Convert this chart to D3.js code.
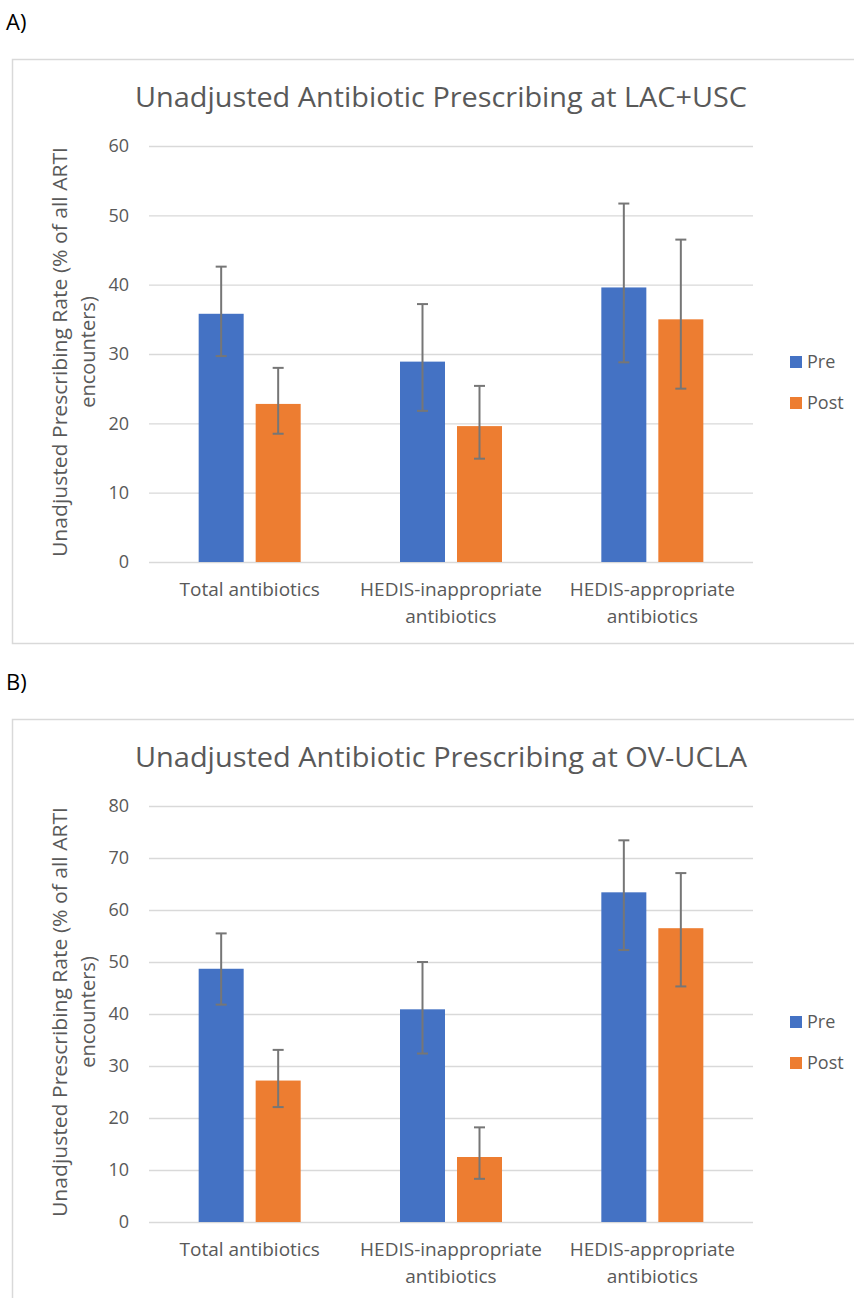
<!DOCTYPE html>
<html>
<head>
<meta charset="utf-8">
<script src="https://cdn.jsdelivr.net/npm/d3@7"></script>
<style>
  body { margin: 0; background: #fff; }
  text { font-family: 'Open Sans', sans-serif; fill: #595959; }
</style>
</head>
<body>
<script>
// categories (tick labels, split in lines) and series
const categories = ['Total antibiotics', 'HEDIS-inappropriate antibiotics', 'HEDIS-appropriate antibiotics']
const categoryLines = [['Total antibiotics'], ['HEDIS-inappropriate', 'antibiotics'], ['HEDIS-appropriate', 'antibiotics']]
const seriesNames = ['Pre', 'Post']

// A) LAC+USC
const lacPre = [35.8, 28.9, 39.6]
const lacPost = [22.8, 19.6, 35.0]
const lacPreLow = [29.7, 21.8, 28.8]
const lacPreHigh = [42.6, 37.2, 51.7]
const lacPostLow = [18.5, 14.9, 25.0]
const lacPostHigh = [28.0, 25.4, 46.5]
const lacTicks = [0, 10, 20, 30, 40, 50, 60]

// B) OV-UCLA
const ovPre = [48.7, 40.9, 63.4]
const ovPost = [27.2, 12.5, 56.5]
const ovPreLow = [41.8, 32.4, 52.3]
const ovPreHigh = [55.5, 50.0, 73.4]
const ovPostLow = [22.1, 8.3, 45.3]
const ovPostHigh = [33.1, 18.2, 67.1]
const ovTicks = [0, 10, 20, 30, 40, 50, 60, 70, 80]

const colors = ['#4472C4', '#ED7D31']
const yTitle = ['Unadjusted Prescribing Rate (% of all ARTI', 'encounters)']

const w = 854
const h = 1298

const svg = d3.select('body')
    .append('svg')
    .attr('width', w)
    .attr('height', h)

function drawPanel(top, letter, title, pre, post, preLow, preHigh, postLow, postHigh, ticks) {
    // panel letter
    svg.append('text')
        .attr('x', 6)
        .attr('y', top - 29)
        .style('font-size', '22px')
        .style('fill', '#000')
        .text(letter)

    // chart frame
    svg.append('rect')
        .attr('x', 12.5)
        .attr('y', top + 0.5)
        .attr('width', 860)
        .attr('height', 584)
        .style('fill', 'none')
        .style('stroke', '#d9d9d9')
        .style('stroke-width', 1.5)

    // title
    svg.append('text')
        .attr('x', 441)
        .attr('y', top + 48)
        .attr('text-anchor', 'middle')
        .attr('textLength', 612)
        .attr('lengthAdjust', 'spacingAndGlyphs')
        .style('font-size', '28px')
        .text(title)

    const plotTop = top + 87
    const plotBottom = top + 503
    const left = 149
    const right = 753

    const yScale = d3.scaleLinear()
        .domain([0, d3.max(ticks)])
        .range([plotBottom, plotTop])

    const x0 = d3.scaleBand()
        .domain(categories)
        .range([left, right])

    const groupW = 102
    const x1 = d3.scaleBand()
        .domain(seriesNames)
        .range([(x0.bandwidth() - groupW) / 2, (x0.bandwidth() + groupW) / 2])
        .paddingInner(0.2105)

    // y axis with gridlines
    const yAxis = d3.axisLeft(yScale)
        .tickValues(ticks)
        .tickSize(-(right - left))
        .tickPadding(20)

    const gy = svg.append('g')
        .attr('transform', `translate(${left},0)`)
        .call(yAxis)
    gy.select('.domain').remove()
    gy.selectAll('line')
        .style('stroke', '#d9d9d9')
        .style('stroke-width', 1.3)
    gy.selectAll('text')
        .style('font-size', '18px')
        .style('font-family', "'Open Sans', sans-serif")
        .style('fill', '#595959')

    // bars
    const values = [pre, post]
    const lows = [preLow, postLow]
    const highs = [preHigh, postHigh]

    seriesNames.forEach((s, si) => {
        const g = svg.append('g')
        g.selectAll('rect')
            .data(categories)
            .enter()
            .append('rect')
            .attr('x', (c) => x0(c) + x1(s))
            .attr('width', x1.bandwidth())
            .attr('y', (c, i) => yScale(values[si][i]))
            .attr('height', (c, i) => plotBottom - yScale(values[si][i]))
            .style('fill', colors[si])

        // error bars
        const err = svg.append('g')
            .style('stroke', '#767676')
            .style('stroke-width', 2)
        categories.forEach((c, i) => {
            const cx = x0(c) + x1(s) + x1.bandwidth() / 2
            err.append('line')
                .attr('x1', cx).attr('x2', cx)
                .attr('y1', yScale(lows[si][i]))
                .attr('y2', yScale(highs[si][i]))
            err.append('line')
                .attr('x1', cx - 5.5).attr('x2', cx + 5.5)
                .attr('y1', yScale(highs[si][i]))
                .attr('y2', yScale(highs[si][i]))
            err.append('line')
                .attr('x1', cx - 5.5).attr('x2', cx + 5.5)
                .attr('y1', yScale(lows[si][i]))
                .attr('y2', yScale(lows[si][i]))
        })
    })

    // category labels
    categories.forEach((c, i) => {
        categoryLines[i].forEach((line, li) => {
            svg.append('text')
                .attr('x', x0(c) + x0.bandwidth() / 2)
                .attr('y', plotBottom + 34 + li * 26.5)
                .attr('text-anchor', 'middle')
                .style('font-size', '19px')
                .text(line)
        })
    })

    // y axis title
    const midY = (plotTop + plotBottom) / 2 - 2
    yTitle.forEach((line, li) => {
        svg.append('text')
            .attr('transform', `translate(${67 + li * 28},${midY}) rotate(-90)`)
            .attr('text-anchor', 'middle')
            .attr('textLength', li === 0 ? 410 : null)
            .attr('lengthAdjust', 'spacingAndGlyphs')
            .style('font-size', '20px')
            .text(line)
    })

    // legend
    seriesNames.forEach((s, si) => {
        const ly = top + 297 + si * 41
        svg.append('rect')
            .attr('x', 790)
            .attr('y', ly)
            .attr('width', 12)
            .attr('height', 12)
            .style('fill', colors[si])
        svg.append('text')
            .attr('x', 807)
            .attr('y', ly + 12)
            .style('font-size', '18px')
            .text(s)
    })
}

drawPanel(59, 'A)', 'Unadjusted Antibiotic Prescribing at LAC+USC',
    lacPre, lacPost, lacPreLow, lacPreHigh, lacPostLow, lacPostHigh, lacTicks)

drawPanel(719, 'B)', 'Unadjusted Antibiotic Prescribing at OV-UCLA',
    ovPre, ovPost, ovPreLow, ovPreHigh, ovPostLow, ovPostHigh, ovTicks)
</script>
</body>
</html>
